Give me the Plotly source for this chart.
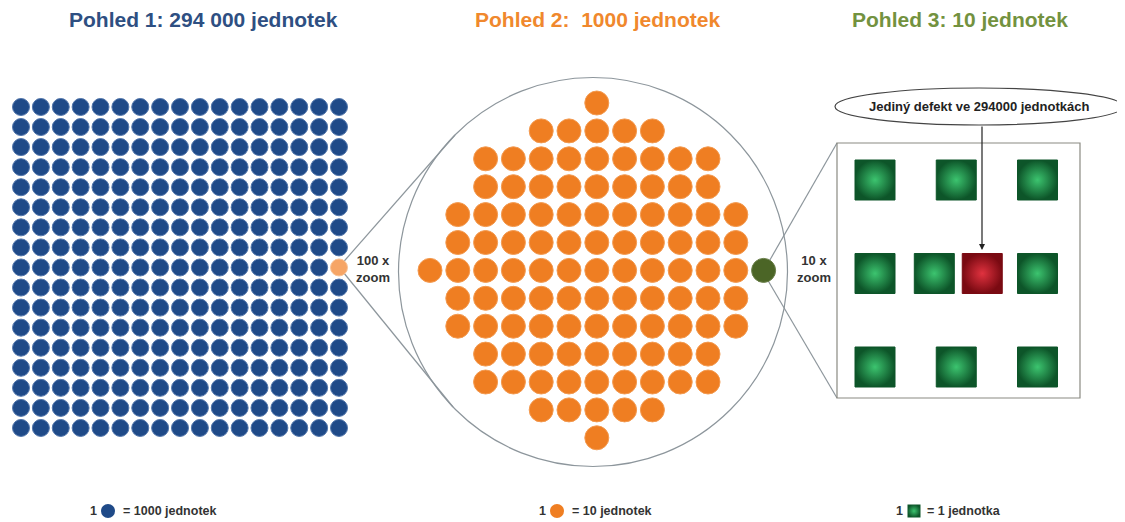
import plotly.graph_objects as go

# ---------------- data ----------------
titles = ["Pohled 1: 294 000 jednotek", "Pohled 2:\u00a0 1000 jednotek", "Pohled 3: 10 jednotek"]
legend_texts = ["= 1000 jednotek", "= 10 jednotek", "= 1 jednotka"]
zoom_labels = ["100 x<br>zoom", "10 x<br>zoom"]
callout_text = "Jediný defekt ve 294000 jednotkách"

# view 1: 17 x 17 grid of units (each = 1000), one highlighted
blue_rows = 17
blue_cols = 17
blue_highlight = (8, 16)          # (row, col) zoomed in

# view 2: rows of the round wafer (first col, last col), each = 10 units
orange_row_spans = [(6, 6), (4, 8), (2, 10), (2, 10), (1, 11), (1, 11), (0, 11),
                    (1, 11), (1, 11), (2, 10), (2, 10), (4, 8), (6, 6)]
orange_highlight = (6, 12)        # (row, col) zoomed in

# view 3: 10 single units, one defect
green_col = [0, 1, 2, 0, 0.73, 1.32, 2, 0, 1, 2]
green_row = [0, 0, 0, 1, 1, 1, 1, 2, 2, 2]
green_state = ["ok", "ok", "ok", "ok", "ok", "defect", "ok", "ok", "ok", "ok"]

# ---------------- styles ----------------
W, H = 1125, 522
OFF = 8  # page body margin
BLUE = "#1f4a88"
ORANGE = "#ef7e22"
LIGHT_ORANGE = "#f6a566"
OLIVE = "#4b6526"
FONT = "Liberation Sans, Arial, sans-serif"


def axis_range(origin, step, size, reverse=False):
    lo = (OFF - origin) / step
    hi = (OFF + size - origin) / step
    return [hi, lo] if reverse else [lo, hi]


fig = go.Figure()

# panel 1 (grid units)
bx, by = [], []
for r in range(blue_rows):
    for c in range(blue_cols):
        if (r, c) != blue_highlight:
            bx.append(c)
            by.append(r)
fig.add_trace(go.Scatter(x=bx, y=by, mode="markers", xaxis="x2", yaxis="y2",
                         marker=dict(size=17, color=BLUE, line=dict(color="#5478ad", width=1)),
                         hoverinfo="skip"))
fig.add_trace(go.Scatter(x=[blue_highlight[1]], y=[blue_highlight[0]], mode="markers",
                         xaxis="x2", yaxis="y2",
                         marker=dict(size=17, color=LIGHT_ORANGE, line=dict(color="#f8c296", width=1)),
                         hoverinfo="skip"))

# panel 2
ox, oy = [], []
for r, (c0, c1) in enumerate(orange_row_spans):
    for c in range(c0, c1 + 1):
        ox.append(c)
        oy.append(r)
fig.add_trace(go.Scatter(x=ox, y=oy, mode="markers", xaxis="x3", yaxis="y3",
                         marker=dict(size=24, color=ORANGE, line=dict(color="#f39a50", width=1)),
                         hoverinfo="skip"))
fig.add_trace(go.Scatter(x=[orange_highlight[1]], y=[orange_highlight[0]], mode="markers",
                         xaxis="x3", yaxis="y3",
                         marker=dict(size=24, color=OLIVE, line=dict(color="#6a7f4a", width=1)),
                         hoverinfo="skip"))

# panel 3
for state, edge, center in [("ok", "#0d5529", "#3cc46f"), ("defect", "#7a0a12", "#e0323f")]:
    xs = [x for x, s in zip(green_col, green_state) if s == state]
    ys = [y for y, s in zip(green_row, green_state) if s == state]
    fig.add_trace(go.Scatter(x=xs, y=ys, mode="markers", xaxis="x4", yaxis="y4",
                             marker=dict(symbol="square", size=40, color=edge,
                                         gradient=dict(type="radial", color=center),
                                         line=dict(color=edge, width=1)),
                             hoverinfo="skip"))

# legend symbols (canvas units)
fig.add_trace(go.Scatter(x=[108], y=[511], mode="markers",
                         marker=dict(size=14, color=BLUE), hoverinfo="skip"))
fig.add_trace(go.Scatter(x=[557], y=[511], mode="markers",
                         marker=dict(size=14, color=ORANGE), hoverinfo="skip"))
fig.add_trace(go.Scatter(x=[914], y=[511], mode="markers",
                         marker=dict(symbol="square", size=13, color="#0d5529",
                                     gradient=dict(type="radial", color="#3cc46f")),
                         hoverinfo="skip"))

shapes = []
line_col = "#8d969c"
shapes.append(dict(type="circle", xref="x", yref="y", x0=398.5, x1=787.5, y0=77.5, y1=466.5,
                   line=dict(color=line_col, width=1.2), layer="below"))
shapes.append(dict(type="line", xref="x", yref="y", x0=339, y0=267, x1=455, y1=135,
                   line=dict(color=line_col, width=1.2), layer="below"))
shapes.append(dict(type="line", xref="x", yref="y", x0=339, y0=267, x1=453, y1=407,
                   line=dict(color=line_col, width=1.2), layer="below"))
shapes.append(dict(type="line", xref="x", yref="y", x0=763, y0=272, x1=837, y1=143,
                   line=dict(color=line_col, width=1.2), layer="below"))
shapes.append(dict(type="line", xref="x", yref="y", x0=763, y0=272, x1=837, y1=398,
                   line=dict(color=line_col, width=1.2), layer="below"))
shapes.append(dict(type="rect", xref="x", yref="y", x0=837, x1=1080, y0=143, y1=398,
                   line=dict(color="#8a8a82", width=1.2), layer="below"))
shapes.append(dict(type="circle", xref="x", yref="y", x0=835, x1=1123, y0=88, y1=125,
                   line=dict(color="#444", width=1.2), fillcolor="white", layer="above"))

annotations = []
title_x = [203, 597, 960]
title_col = ["#2e4f82", "#f0882d", "#73923f"]
for t, x, c in zip(titles, title_x, title_col):
    annotations.append(dict(x=x, y=19, xref="x", yref="y", text=t, showarrow=False,
                            font=dict(family=FONT, size=21, color=c, weight="bold")))
for t, x in zip(zoom_labels, [373, 814]):
    annotations.append(dict(x=x, y=269, xref="x", yref="y", text=t, showarrow=False,
                            font=dict(family=FONT, size=13, color="#333", weight="bold")))
annotations.append(dict(x=979, y=106, xref="x", yref="y", text=callout_text, showarrow=False,
                        font=dict(family=FONT, size=13, color="#222", weight="bold")))
annotations.append(dict(x=982, y=250, xref="x", yref="y", ax=982, ay=125, axref="x", ayref="y",
                        text="", showarrow=True, arrowhead=2, arrowsize=1, arrowwidth=1.2,
                        arrowcolor="#222"))
for t, xs, xt in zip(legend_texts, [93, 542, 899], [121, 570, 925]):
    annotations.append(dict(x=xs, y=511, xref="x", yref="y", text="1", showarrow=False,
                            xanchor="center",
                            font=dict(family=FONT, size=12.5, color="#333", weight="bold")))
    annotations.append(dict(x=xt, y=511, xref="x", yref="y", text=t, showarrow=False,
                            xanchor="left",
                            font=dict(family=FONT, size=12.5, color="#333", weight="bold")))

hidden = dict(visible=False, fixedrange=True, showgrid=False, zeroline=False)
fig.update_layout(
    width=W, height=H, margin=dict(l=0, r=0, t=0, b=0),
    paper_bgcolor="white", plot_bgcolor="white", showlegend=False,
    xaxis=dict(range=[OFF, W + OFF], **hidden),
    yaxis=dict(range=[H + OFF, OFF], **hidden),
    xaxis2=dict(range=axis_range(21, 19.875, W), overlaying="x", **hidden),
    yaxis2=dict(range=axis_range(107, 20.06, H, True), overlaying="y", **hidden),
    xaxis3=dict(range=axis_range(430, 27.8, W), overlaying="x", **hidden),
    yaxis3=dict(range=axis_range(103, 27.9, H, True), overlaying="y", **hidden),
    xaxis4=dict(range=axis_range(875, 81.25, W), overlaying="x", **hidden),
    yaxis4=dict(range=axis_range(180, 93.5, H, True), overlaying="y", **hidden),
    shapes=shapes, annotations=annotations,
)

fig.write_html("out.html")
